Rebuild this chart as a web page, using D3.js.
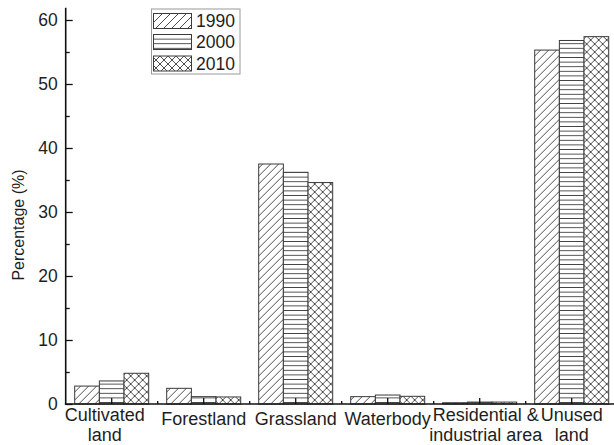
<!DOCTYPE html>
<html>
<head>
<meta charset="utf-8">
<script src="https://cdn.jsdelivr.net/npm/d3@7"></script>
<style>
  html, body { margin: 0; padding: 0; background: #fff; }
  svg { display: block; font-family: "Liberation Sans", Arial, sans-serif; }
</style>
</head>
<body>
<svg id="chart" width="614" height="445"></svg>
<script>
// Land-use composition (% of area) by category and year
const categories = ["Cultivated land", "Forestland", "Grassland", "Waterbody", "Residential & industrial area", "Unused land"];
const categoryLines = [["Cultivated", "land"], ["Forestland"], ["Grassland"], ["Waterbody"], ["Residential &", "industrial area"], ["Unused", "land"]];
const years = ["1990", "2000", "2010"];
const values1990 = [2.8, 2.45, 37.5, 1.15, 0.2, 55.3];
const values2000 = [3.6, 1.15, 36.2, 1.4, 0.3, 56.8];
const values2010 = [4.8, 1.1, 34.6, 1.2, 0.3, 57.4];
const yMajorTicks = [0, 10, 20, 30, 40, 50, 60];
const yMinorTicks = [5, 15, 25, 35, 45, 55];

const seriesValues = [values1990, values2000, values2010];
const patternIds = ["pat-diag", "pat-horiz", "pat-cross"];
// small horizontal nudges so neighbouring two-line labels don't crowd each other
const labelNudge = { "Cultivated land": -7, "Residential & industrial area": 6 };

const svg = d3.select("#chart");
const lineColor = "#3a3a3a";
const textColor = "#1e1e1e";

// Hatch patterns
const defs = svg.append("defs");
const pd = defs.append("pattern").attr("id", "pat-diag").attr("patternUnits", "userSpaceOnUse")
  .attr("width", 8).attr("height", 8);
pd.append("rect").attr("width", 8).attr("height", 8).attr("fill", "#fff");
pd.append("path").attr("d", "M-2,2 L2,-2 M0,8 L8,0 M6,10 L10,6")
  .attr("stroke", lineColor).attr("stroke-width", 0.9);

const ph = defs.append("pattern").attr("id", "pat-horiz").attr("patternUnits", "userSpaceOnUse")
  .attr("width", 8).attr("height", 4.6);
ph.append("rect").attr("width", 8).attr("height", 4.6).attr("fill", "#fff");
ph.append("path").attr("d", "M0,2.3 L8,2.3").attr("stroke", lineColor).attr("stroke-width", 0.9);

const pc = defs.append("pattern").attr("id", "pat-cross").attr("patternUnits", "userSpaceOnUse")
  .attr("width", 8).attr("height", 8);
pc.append("rect").attr("width", 8).attr("height", 8).attr("fill", "#fff");
pc.append("path").attr("d", "M-2,2 L2,-2 M0,8 L8,0 M6,10 L10,6 M-2,6 L2,10 M0,0 L8,8 M6,-2 L10,2")
  .attr("stroke", lineColor).attr("stroke-width", 0.9);

// Scales
const x0 = 65.7, x1 = x0 + 92 * categories.length;
const yZero = 404, ySixty = 20;
const x = d3.scaleBand().domain(categories).range([x0, x1]).paddingInner(0).paddingOuter(0);
const groupWidth = 74;
const xs = d3.scaleBand().domain(years).range([0, groupWidth]);
const y = d3.scaleLinear().domain([0, 60]).range([yZero, ySixty]);
const yTop = 61.9;

// Bars
const groups = svg.append("g").selectAll("g").data(categories).join("g")
  .attr("transform", d => `translate(${x(d) + (x.bandwidth() - groupWidth) / 2},0)`);
groups.selectAll("rect")
  .data((c, i) => years.map((yr, j) => ({ yr, j, v: seriesValues[j][i] })))
  .join("rect")
  .attr("x", d => xs(d.yr))
  .attr("width", xs.bandwidth())
  .attr("y", d => y(d.v))
  .attr("height", d => yZero - y(d.v))
  .attr("fill", d => `url(#${patternIds[d.j]})`)
  .attr("stroke", lineColor)
  .attr("stroke-width", 1);

// Y axis (ticks pointing inward)
const yAxisG = svg.append("g").attr("transform", `translate(${x0},0)`);
yAxisG.call(d3.axisLeft(y).tickValues(yMajorTicks).tickFormat(d3.format("d"))
  .tickSize(-7).tickPadding(8))
  .call(g => g.select(".domain").remove());
yAxisG.selectAll(".tick line").attr("stroke", "#111").attr("stroke-width", 1.3);
yAxisG.selectAll(".tick text").attr("fill", textColor).attr("font-size", 17.5)
  .attr("font-family", "Liberation Sans, Arial, sans-serif");
const yMinorG = svg.append("g").attr("transform", `translate(${x0},0)`);
yMinorG.call(d3.axisLeft(y).tickValues(yMinorTicks).tickFormat("").tickSize(-4))
  .call(g => g.select(".domain").remove());
yMinorG.selectAll(".tick line").attr("stroke", "#111").attr("stroke-width", 1.3);
svg.append("line").attr("x1", x0).attr("x2", x0).attr("y1", y(yTop)).attr("y2", yZero + 0.7)
  .attr("stroke", "#111").attr("stroke-width", 1.6);

// X axis: major ticks at category centres, minor at boundaries, both inward
const xAxisG = svg.append("g").attr("transform", `translate(0,${yZero})`);
xAxisG.call(d3.axisBottom(x).tickSize(-6).tickFormat(""))
  .call(g => g.select(".domain").remove());
xAxisG.selectAll(".tick line").attr("stroke", "#111").attr("stroke-width", 1.3);
xAxisG.selectAll(".boundary").data(categories.slice(1)).join("line")
  .attr("class", "boundary")
  .attr("x1", d => x(d)).attr("x2", d => x(d))
  .attr("y1", 0).attr("y2", -3)
  .attr("stroke", "#111").attr("stroke-width", 1.3);
svg.append("line").attr("x1", x0 - 0.8).attr("x2", x1).attr("y1", yZero).attr("y2", yZero)
  .attr("stroke", "#111").attr("stroke-width", 1.6);

// Category labels
const labels = svg.append("g").selectAll("text").data(categories).join("text")
  .attr("text-anchor", "middle")
  .attr("fill", textColor)
  .attr("font-size", 18);
labels.each(function (c, i) {
  const lines = categoryLines[i];
  const t = d3.select(this);
  const cx = x(c) + x.bandwidth() / 2 + (labelNudge[c] || 0);
  if (lines.length === 1) {
    t.append("tspan").attr("x", cx).attr("y", 425).text(lines[0]);
  } else {
    lines.forEach((ln, k) => t.append("tspan").attr("x", cx).attr("y", 421 + 20 * k).text(ln));
  }
});

// Y axis title
svg.append("text")
  .attr("transform", "translate(24,225) rotate(-90)")
  .attr("text-anchor", "middle")
  .attr("fill", textColor)
  .attr("font-size", 16)
  .text("Percentage (%)");

// Legend
const legend = svg.append("g");
legend.append("rect").attr("x", 151.5).attr("y", 9).attr("width", 88.5).attr("height", 65)
  .attr("fill", "#fff").attr("stroke", "#9a9a9a").attr("stroke-width", 1);
const rowY = [13.5, 34.5, 56];
years.forEach((yr, j) => {
  legend.append("rect").attr("x", 153.5).attr("y", rowY[j]).attr("width", 38).attr("height", 15)
    .attr("fill", `url(#${patternIds[j]})`).attr("stroke", lineColor).attr("stroke-width", 1);
  legend.append("text").attr("x", 196).attr("y", rowY[j] + 7.5).attr("dy", "0.35em")
    .attr("fill", textColor).attr("font-size", 17.5).text(yr);
});
</script>
</body>
</html>
